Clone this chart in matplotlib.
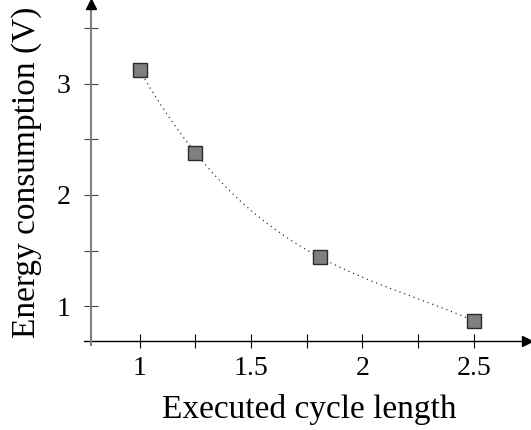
import numpy as np
import matplotlib
matplotlib.use("Agg")
import matplotlib.pyplot as plt

# data
cycle_length = [1.0, 1.25, 1.81, 2.5]
energy = [3.12, 2.38, 1.44, 0.87]
xticks = [1.0, 1.25, 1.5, 1.75, 2.0, 2.25, 2.5]
xticklabels = ["1", "", "1.5", "", "2", "", "2.5"]
yticks = [1.0, 1.5, 2.0, 2.5, 3.0, 3.5]
yticklabels = ["1", "", "2", "", "3", ""]

plt.rcParams['font.family'] = ['Liberation Serif', 'DejaVu Serif']
W, H = 531, 430
fig = plt.figure(figsize=(W / 100, H / 100), dpi=100)
ax_left, ax_right, ax_bottom_px, ax_top_px = 91, 527, 341, 4
ax = fig.add_axes([ax_left / W, (H - ax_bottom_px) / H,
                   (ax_right - ax_left) / W, (ax_bottom_px - ax_top_px) / H])

# scale: x=1 at px 139.7, 222.7 px per unit; y=1 at px 306.3, 111.3 px per unit
x0 = 1 - (139.7 - ax_left) / 222.7
x1 = 1 + (ax_right - 139.7) / 222.7
y0 = 1 - (ax_bottom_px - 306.3) / 111.3
y1 = 3 + (83.7 - ax_top_px) / 111.3
ax.set_xlim(x0, x1)
ax.set_ylim(y0, y1)

# smooth dotted curve through points (cubic interpolation of the data)
coef = np.polyfit(cycle_length, energy, 3)
xs = np.linspace(cycle_length[0], cycle_length[-1], 200)
ax.plot(xs, np.polyval(coef, xs), linestyle=(0, (1, 3)), color='#333333', lw=0.9, zorder=2)
ax.plot(cycle_length, energy, linestyle='none', marker='s', markersize=10.5,
        markerfacecolor='#808080', markeredgecolor='#2a2a2a', markeredgewidth=1.0, zorder=3)

for s in ax.spines.values():
    s.set_visible(False)

# axes lines with arrows
ax.plot([-0.015, 1.0], [0, 0], transform=ax.transAxes, color='black', lw=1.0, clip_on=False)
ax.plot([0, 0], [-0.012, 1.0], transform=ax.transAxes, color='#808080', lw=1.5, clip_on=False)
ax.plot([1.0], [0], transform=ax.transAxes, marker='>', markersize=7, color='black', clip_on=False)
ax.plot([0], [1.0], transform=ax.transAxes, marker='^', markersize=7, color='black', clip_on=False)

ax.set_xticks(xticks)
ax.set_xticklabels(xticklabels)
ax.set_yticks(yticks)
ax.set_yticklabels(yticklabels)
ax.tick_params(axis='x', direction='inout', length=10, width=0.8, color='black',
               labelsize=20, pad=6)
ax.tick_params(axis='y', direction='inout', length=10, width=0.8, color='#444444',
               labelsize=20, pad=10)

ax.set_xlabel("Executed cycle length", fontsize=24, labelpad=9)
ax.set_ylabel("Energy consumption (V)", fontsize=24, labelpad=10)

fig.savefig("out.png", dpi=100)
